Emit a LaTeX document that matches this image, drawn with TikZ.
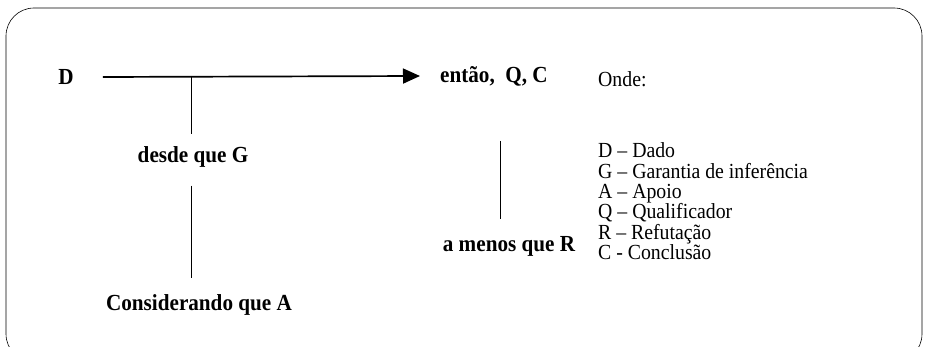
\documentclass[tikz,border=0pt]{standalone}
\usepackage{fontspec}
\setmainfont[FakeStretch=0.92]{Liberation Serif}
\usetikzlibrary{arrows.meta}
\tikzset{
  lbl/.style={font=\fontsize{23}{27}\selectfont\bfseries, inner sep=0pt},
  leg/.style={font=\fontsize{21.5}{25}\selectfont, anchor=base west, inner sep=0pt, text height=12pt, text depth=3pt},
}
\begin{document}
\begin{tikzpicture}[x=1pt,y=-1pt]
\useasboundingbox (0,0) rectangle (927,347);
\clip (0,0) rectangle (927,347);
\draw[semithick,rounded corners=28pt] (6,8) rectangle (922,362);
% toulmin scheme
\node[lbl] (D) at (66,77) {D};
\node[lbl,anchor=west] (C) at (440,76) {então,\ \ Q, C};
\node[lbl] (G) at (193,157) {desde que G};
\node[lbl] (A) at (199,305) {Considerando que A};
\node[lbl] (R) at (509,246) {a menos que R};
\coordinate (j) at (191,76);
\coordinate (rtop) at (500,141);
\draw[line width=1.7pt,-{Triangle[length=17pt,width=15pt]}] ([xshift=29pt]D.east) -- ([xshift=-20pt]C.west |- j);
\draw[thick] (j) -- ([yshift=12pt]G.north -| j);
\draw[thick] ([yshift=-18pt]G.south -| j) -- ([yshift=16pt]A.north -| j);
\draw[thick] (rtop) -- ([yshift=17pt]R.north -| rtop);
% legenda
\node[leg] (onde) at (598,87) {Onde:};
\foreach \n/\y/\t in {d/158/D -- Dado, g/178.5/G -- Garantia de inferência, a/198.5/A -- Apoio, q/219/Q -- Qualificador, r/239.5/R -- Refutação, c/260/C - Conclusão}
  \node[leg] (leg-\n) at (598,\y) {\t};
\end{tikzpicture}
\end{document}
